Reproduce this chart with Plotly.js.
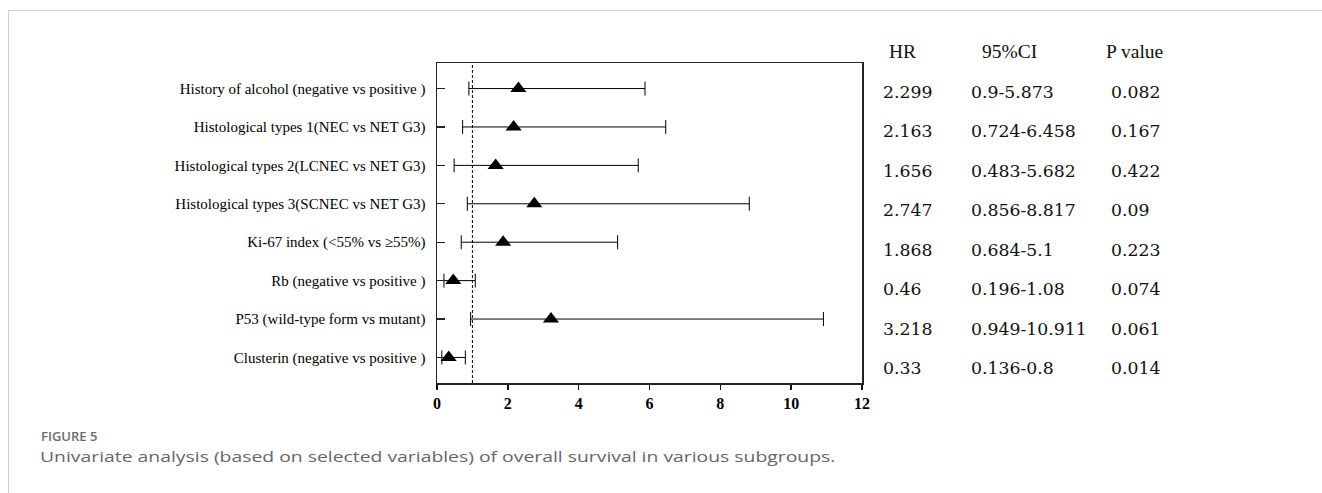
<!DOCTYPE html>
<html>
<head>
<meta charset="utf-8">
<script src="https://cdn.plot.ly/plotly-3.0.1.min.js"></script>
<style>
  html, body { margin: 0; padding: 0; background: #fff; }
  #wrap { position: relative; width: 1322px; height: 493px; overflow: hidden; }
  #chart { position: absolute; left: 0; top: 0; width: 1322px; height: 493px; }
  #frame { position: absolute; left: 8px; top: 10px; width: 1400px; height: 600px;
           border-top: 1.5px solid #cfcfcf; border-left: 1.5px solid #cfcfcf; pointer-events: none; }
  #figlabel { position: absolute; left: 41px; top: 427px; font-family: "Open Sans", sans-serif;
              font-size: 13px; font-weight: 600; color: #6b6b6b; }
  #caption { position: absolute; left: 40px; top: 446px; font-family: "Open Sans", sans-serif;
             font-size: 15px; color: #666; white-space: nowrap;
             transform: scaleX(1.29); transform-origin: left center; }
</style>
</head>
<body>
<div id="wrap">
  <div id="chart"></div>
  <div id="frame"></div>
  <div id="figlabel">FIGURE 5</div>
  <div id="caption">Univariate analysis (based on selected variables) of overall survival in various subgroups.</div>
</div>
<script>
// ---- data ----
const variables = [
  "History of alcohol (negative vs positive )",
  "Histological types 1(NEC vs NET G3)",
  "Histological types 2(LCNEC vs NET G3)",
  "Histological types 3(SCNEC vs NET G3)",
  "Ki-67 index (<55% vs \u226555%)",
  "Rb (negative vs positive )",
  "P53 (wild-type form vs mutant)",
  "Clusterin (negative vs positive )"
];
const hr    = [2.299, 2.163, 1.656, 2.747, 1.868, 0.46, 3.218, 0.33];
const ciLow = [0.9, 0.724, 0.483, 0.856, 0.684, 0.196, 0.949, 0.136];
const ciHigh= [5.873, 6.458, 5.682, 8.817, 5.1, 1.08, 10.911, 0.8];
const hrText = ["2.299", "2.163", "1.656", "2.747", "1.868", "0.46", "3.218", "0.33"];
const ciText = ["0.9-5.873", "0.724-6.458", "0.483-5.682", "0.856-8.817", "0.684-5.1", "0.196-1.08", "0.949-10.911", "0.136-0.8"];
const pText  = ["0.082", "0.167", "0.422", "0.09", "0.223", "0.074", "0.061", "0.014"];
const tableHeaders = ["HR", "95%CI", "P value"];
const xTicks = [0, 2, 4, 6, 8, 10, 12];
const refValue = 1;

// ---- layout geometry (pixels) ----
const W = 1322, H = 493;
const plotL = 437, plotR = 862, plotT = 63, plotB = 383;
const pw = plotR - plotL, ph = plotB - plotT;
const px2x = p => (p - plotL) / pw;
const px2y = p => (plotB - p) / ph;

const trace = {
  type: "scatter",
  mode: "markers",
  x: hr,
  y: variables,
  marker: { symbol: "triangle-up", size: 14, color: "#000" },
  error_x: {
    type: "data",
    symmetric: false,
    array: hr.map((v, i) => ciHigh[i] - v),
    arrayminus: hr.map((v, i) => v - ciLow[i]),
    color: "#000",
    thickness: 1,
    width: 7
  },
  hoverinfo: "x+y",
  showlegend: false
};

const annotations = [];
const serif = "'Liberation Serif', 'Times New Roman', serif";
const valFont = { family: "'DejaVu Serif', serif", size: 17.3, color: "#111" };
const headFont = { family: serif, size: 19.5, color: "#111" };
const headX = [887, 980, 1104];
tableHeaders.forEach((h, j) => {
  annotations.push({ xref: "paper", yref: "paper", x: px2x(headX[j]), y: px2y(51.5),
    text: h, showarrow: false, xanchor: "left", yanchor: "middle", font: headFont });
});
const colX = [881, 969, 1109];
variables.forEach((v, i) => {
  const py = 91.7 + i * 39.5;
  [hrText[i], ciText[i], pText[i]].forEach((t, j) => {
    annotations.push({ xref: "paper", yref: "paper", x: px2x(colX[j]), y: px2y(py),
      text: t, showarrow: false, xanchor: "left", yanchor: "middle", font: valFont });
  });
});

const layout = {
  width: W, height: H,
  margin: { l: plotL, r: W - plotR, t: plotT, b: H - plotB, pad: 0 },
  paper_bgcolor: "rgba(0,0,0,0)",
  plot_bgcolor: "rgba(0,0,0,0)",
  xaxis: {
    range: [0, 12],
    tickvals: xTicks,
    ticktext: xTicks.map(v => "<b>" + v + "</b>"),
    ticks: "outside", ticklen: 5, tickwidth: 1.5, tickcolor: "#111",
    showline: true, linecolor: "#222", linewidth: 1.5, mirror: true,
    showgrid: false, zeroline: false,
    tickfont: { family: serif, size: 16, color: "#000" }
  },
  yaxis: {
    type: "category",
    range: [7.665, -0.665],
    ticks: "inside", ticklen: 8, tickwidth: 1.2, tickcolor: "#222",
    showline: true, linecolor: "#222", linewidth: 1.5, mirror: true,
    showgrid: false, zeroline: false,
    ticklabelstandoff: 7,
    tickfont: { family: serif, size: 15, color: "#000" }
  },
  shapes: [{
    type: "line", xref: "x", yref: "paper", x0: refValue, x1: refValue, y0: 0, y1: 1,
    line: { color: "#000", width: 1, dash: "3px,2px" }
  }],
  annotations: annotations
};

Plotly.newPlot("chart", [trace], layout, { displayModeBar: false, staticPlot: true });
</script>
</body>
</html>
